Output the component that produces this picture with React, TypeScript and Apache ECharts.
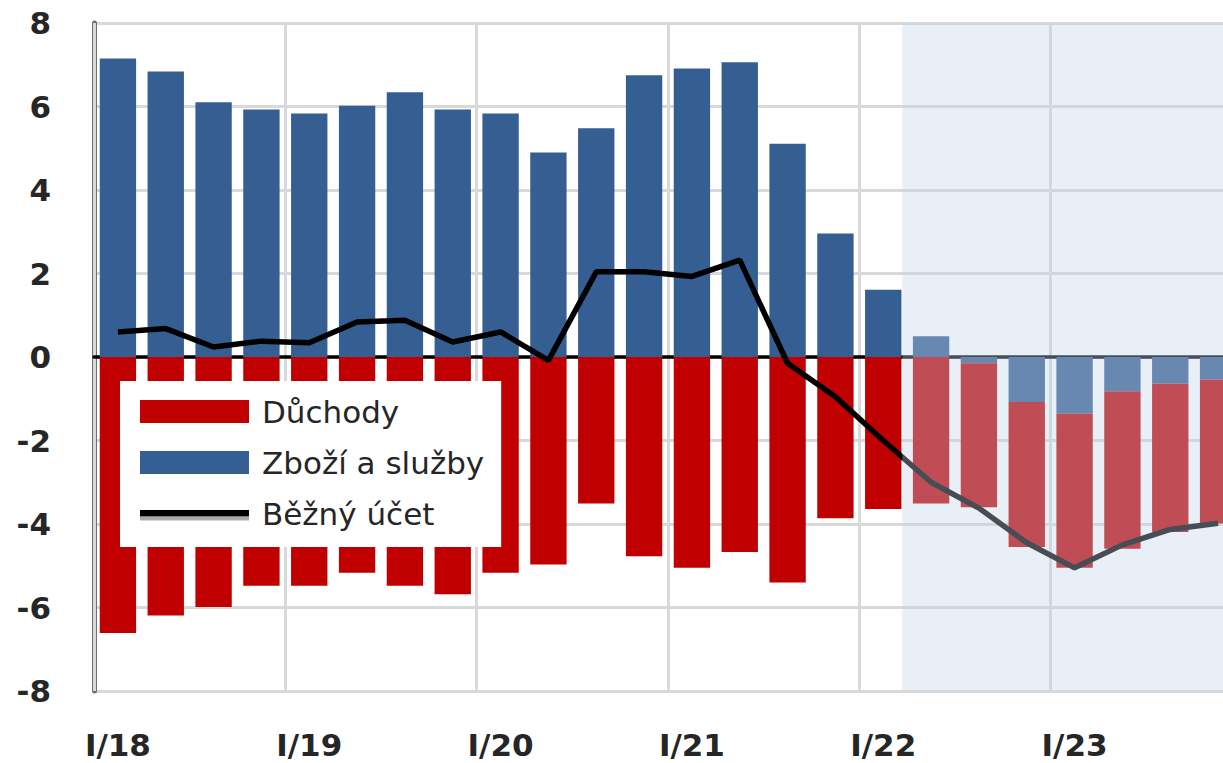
import React, { useEffect, useRef } from "react";
import * as echarts from "echarts";

const categories = [
  "I/18", "II/18", "III/18", "IV/18",
  "I/19", "II/19", "III/19", "IV/19",
  "I/20", "II/20", "III/20", "IV/20",
  "I/21", "II/21", "III/21", "IV/21",
  "I/22", "II/22", "III/22", "IV/22",
  "I/23", "II/23", "III/23", "IV/23",
];

const goodsServices = [
  7.15, 6.84, 6.1, 5.93, 5.83, 6.02, 6.34, 5.93, 5.83, 4.9, 5.48, 6.75,
  6.91, 7.06, 5.11, 2.96, 1.61, 0.5, -0.15, -1.08, -1.36, -0.82, -0.64, -0.54,
];

const incomes = [
  -6.61, -6.19, -5.99, -5.48, -5.48, -5.17, -5.48, -5.68, -5.17, -4.97, -3.51, -4.77,
  -5.05, -4.67, -5.4, -3.86, -3.64, -3.51, -3.45, -3.47, -3.69, -3.77, -3.55, -3.45,
];

const currentAccount = [
  0.6, 0.68, 0.24, 0.38, 0.34, 0.84, 0.88, 0.36, 0.6, -0.08, 2.04, 2.04,
  1.93, 2.32, -0.15, -0.95, -2.0, -3.0, -3.62, -4.45, -5.05, -4.5, -4.13, -3.98,
];

const seriesNames = ["Důchody", "Zboží a služby", "Běžný účet"];
const forecastRange = [16.9, 24];

export default function App() {
  const ref = useRef<HTMLDivElement>(null);

  useEffect(() => {
    if (!ref.current) return;
    const chart = echarts.init(ref.current, null, { renderer: "svg" });
    const font = "DejaVu Sans";
    chart.setOption({
      animation: false,
      backgroundColor: "#ffffff",
      grid: { left: 94, right: 0, top: 23, bottom: 72, containLabel: false },
      legend: {
        orient: "vertical",
        left: 120,
        top: 381,
        backgroundColor: "#ffffff",
        padding: [15, 17, 18, 20],
        itemWidth: 109,
        itemHeight: 23,
        itemGap: 20,
        textStyle: { fontFamily: font, fontSize: 31, color: "#262626", padding: [0, 0, 0, 8] },
        data: [
          { name: seriesNames[0], icon: "rect" },
          { name: seriesNames[1], icon: "rect" },
          {
            name: seriesNames[2],
            icon: "path://M0,0 L109,0 M0,23 L109,23 M0,8 L109,8 L109,14.5 L0,14.5 Z",
            itemStyle: {
              color: "#000000",
              borderWidth: 0,
              shadowColor: "#aaaaaa",
              shadowBlur: 0,
              shadowOffsetY: 4,
            },
          },
        ],
      },
      xAxis: [
        {
          type: "category",
          data: categories,
          axisLine: { onZero: true, lineStyle: { color: "#000000", width: 3.5 } },
          axisTick: { show: false },
          axisLabel: {
            interval: (i: number) => i % 4 === 0,
            margin: 38,
            fontFamily: font,
            fontWeight: "bold",
            fontSize: 31,
            color: "#262626",
          },
          splitLine: {
            show: true,
            interval: (i: number) => i % 4 === 0,
            lineStyle: { color: "#d9d9d9", width: 3 },
          },
          z: 1,
        },
        { type: "value", min: 0, max: 24, show: false },
      ],
      yAxis: {
        type: "value",
        min: -8,
        max: 8,
        interval: 2,
        axisLine: { show: true, onZero: false, lineStyle: { color: "#6f6f6f", width: 5 } },
        axisTick: { show: false },
        axisLabel: {
          margin: 43,
          fontFamily: font,
          fontWeight: "bold",
          fontSize: 31,
          color: "#262626",
        },
        splitLine: { show: true, lineStyle: { color: "#d9d9d9", width: 3 } },
      },
      series: [
        {
          name: seriesNames[1],
          type: "bar",
          stack: "bop",
          data: goodsServices,
          barCategoryGap: "24%",
          itemStyle: { color: "#355f92" },
          z: 2,
        },
        {
          name: seriesNames[0],
          type: "bar",
          stack: "bop",
          data: incomes,
          barCategoryGap: "24%",
          itemStyle: { color: "#c00000" },
          z: 2,
        },
        {
          name: seriesNames[2],
          type: "line",
          data: currentAccount,
          symbol: "none",
          lineStyle: { color: "#000000", width: 5.5 },
          itemStyle: { color: "#000000" },
          z: 4,
        },
        {
          name: "forecast",
          type: "line",
          xAxisIndex: 1,
          data: [],
          markArea: {
            silent: true,
            z: 10,
            itemStyle: { color: "rgba(192,211,233,0.365)" },
            data: [[{ xAxis: forecastRange[0] }, { xAxis: forecastRange[1] }]],
          },
        },
      ],
    });
    return () => chart.dispose();
  }, []);

  return (
    <div
      style={{
        position: "fixed",
        left: 0,
        top: 0,
        width: 1223,
        height: 763,
        overflow: "hidden",
        background: "#ffffff",
      }}
    >
      <div ref={ref} style={{ width: 1242, height: 763 }} />
    </div>
  );
}
